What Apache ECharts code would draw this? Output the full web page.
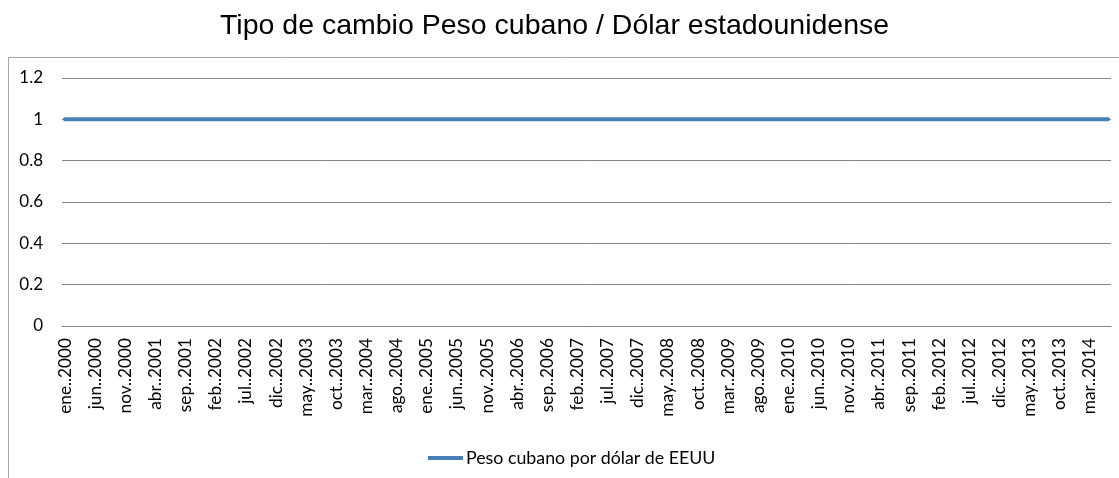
<!DOCTYPE html>
<html>
<head>
<meta charset="utf-8">
<script src="https://cdn.jsdelivr.net/npm/echarts@6/dist/echarts.min.js"></script>
<style>
html,body{margin:0;padding:0;background:#fff;}
#c{width:1119px;height:478px;}
</style>
</head>
<body>
<div id="c"></div>
<script>
const title = "Tipo de cambio Peso cubano / Dólar estadounidense";
const seriesName = "Peso cubano por dólar de EEUU";
const categories = [
"ene..2000","feb..2000","mar..2000","abr..2000","may..2000","jun..2000","jul..2000","ago..2000","sep..2000","oct..2000","nov..2000","dic..2000",
"ene..2001","feb..2001","mar..2001","abr..2001","may..2001","jun..2001","jul..2001","ago..2001","sep..2001","oct..2001","nov..2001","dic..2001",
"ene..2002","feb..2002","mar..2002","abr..2002","may..2002","jun..2002","jul..2002","ago..2002","sep..2002","oct..2002","nov..2002","dic..2002",
"ene..2003","feb..2003","mar..2003","abr..2003","may..2003","jun..2003","jul..2003","ago..2003","sep..2003","oct..2003","nov..2003","dic..2003",
"ene..2004","feb..2004","mar..2004","abr..2004","may..2004","jun..2004","jul..2004","ago..2004","sep..2004","oct..2004","nov..2004","dic..2004",
"ene..2005","feb..2005","mar..2005","abr..2005","may..2005","jun..2005","jul..2005","ago..2005","sep..2005","oct..2005","nov..2005","dic..2005",
"ene..2006","feb..2006","mar..2006","abr..2006","may..2006","jun..2006","jul..2006","ago..2006","sep..2006","oct..2006","nov..2006","dic..2006",
"ene..2007","feb..2007","mar..2007","abr..2007","may..2007","jun..2007","jul..2007","ago..2007","sep..2007","oct..2007","nov..2007","dic..2007",
"ene..2008","feb..2008","mar..2008","abr..2008","may..2008","jun..2008","jul..2008","ago..2008","sep..2008","oct..2008","nov..2008","dic..2008",
"ene..2009","feb..2009","mar..2009","abr..2009","may..2009","jun..2009","jul..2009","ago..2009","sep..2009","oct..2009","nov..2009","dic..2009",
"ene..2010","feb..2010","mar..2010","abr..2010","may..2010","jun..2010","jul..2010","ago..2010","sep..2010","oct..2010","nov..2010","dic..2010",
"ene..2011","feb..2011","mar..2011","abr..2011","may..2011","jun..2011","jul..2011","ago..2011","sep..2011","oct..2011","nov..2011","dic..2011",
"ene..2012","feb..2012","mar..2012","abr..2012","may..2012","jun..2012","jul..2012","ago..2012","sep..2012","oct..2012","nov..2012","dic..2012",
"ene..2013","feb..2013","mar..2013","abr..2013","may..2013","jun..2013","jul..2013","ago..2013","sep..2013","oct..2013","nov..2013","dic..2013",
"ene..2014","feb..2014","mar..2014","abr..2014","may..2014","jun..2014"
];
const values = [
1,1,1,1,1,1,1,1,1,1,1,1,
1,1,1,1,1,1,1,1,1,1,1,1,
1,1,1,1,1,1,1,1,1,1,1,1,
1,1,1,1,1,1,1,1,1,1,1,1,
1,1,1,1,1,1,1,1,1,1,1,1,
1,1,1,1,1,1,1,1,1,1,1,1,
1,1,1,1,1,1,1,1,1,1,1,1,
1,1,1,1,1,1,1,1,1,1,1,1,
1,1,1,1,1,1,1,1,1,1,1,1,
1,1,1,1,1,1,1,1,1,1,1,1,
1,1,1,1,1,1,1,1,1,1,1,1,
1,1,1,1,1,1,1,1,1,1,1,1,
1,1,1,1,1,1,1,1,1,1,1,1,
1,1,1,1,1,1,1,1,1,1,1,1,
1,1,1,1,1,1
];
const yTicks = [0, 0.2, 0.4, 0.6, 0.8, 1, 1.2];

const chart = echarts.init(document.getElementById('c'), null, {renderer: 'canvas'});
const labelFont = "Lato, 'Open Sans', sans-serif";
chart.setOption({
  animation: false,
  backgroundColor: '#ffffff',
  title: {
    text: title,
    left: 215,
    top: 7,
    textStyle: {
      fontFamily: "'Liberation Sans', Arial, sans-serif",
      fontWeight: 'normal',
      fontSize: 28.5,
      color: '#000000'
    }
  },
  graphic: [{
    type: 'rect',
    shape: {x: 8.5, y: 57.5, width: 1200, height: 600},
    style: {fill: 'none', stroke: '#a6a6a6', lineWidth: 1},
    silent: true,
    z: -1
  }],
  legend: {
    top: 444,
    left: 423,
    itemWidth: 35,
    itemHeight: 4,
    icon: 'rect',
    itemGap: 4,
    textStyle: {fontFamily: labelFont, fontSize: 17.8, color: '#000', padding: [0, 0, 0, -2]},
    data: [seriesName]
  },
  grid: {left: 62, right: 8, top: 78, bottom: 152, containLabel: false},
  xAxis: {
    type: 'category',
    data: categories,
    boundaryGap: true,
    axisLine: {show: true, lineStyle: {color: '#868686', width: 1}},
    axisTick: {show: false},
    axisLabel: {
      interval: 4,
      rotate: 90,
      margin: 12,
      fontFamily: labelFont,
      fontSize: 17.2,
      color: '#000'
    }
  },
  yAxis: {
    type: 'value',
    min: yTicks[0],
    max: yTicks[yTicks.length - 1],
    interval: 0.2,
    axisLine: {show: false},
    axisTick: {show: false},
    splitLine: {lineStyle: {color: '#868686', width: 1}},
    axisLabel: {
      margin: 19,
      fontFamily: labelFont,
      fontSize: 17,
      color: '#000',
      formatter: v => String(Math.round(v * 10) / 10)
    }
  },
  series: [{
    name: seriesName,
    type: 'line',
    data: values,
    symbol: 'none',
    lineStyle: {color: '#4a7ebb', width: 4, cap: 'round'},
    itemStyle: {color: '#4a7ebb'}
  }]
});
</script>
</body>
</html>
